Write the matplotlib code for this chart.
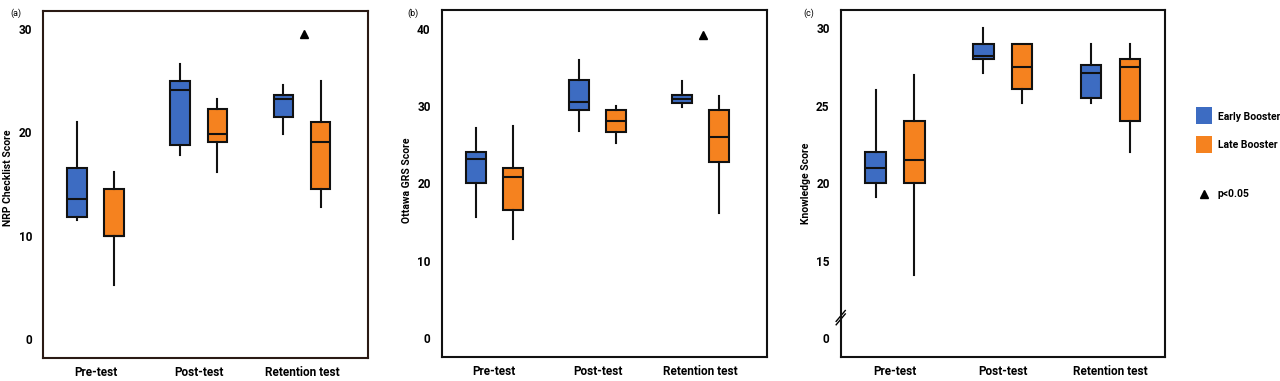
import matplotlib
matplotlib.use("Agg")
import matplotlib.pyplot as plt
from matplotlib.patches import Rectangle
from matplotlib.lines import Line2D
from matplotlib.transforms import blended_transform_factory

plt.rcParams['font.family'] = ['Roboto', 'DejaVu Sans']

timepoints = ["Pre-test", "Post-test", "Retention test"]
groups = ["Early Booster", "Late Booster"]

# Panel (a) NRP Checklist Score
a_early_whislo = [11.55, 17.8, 19.8]
a_early_q1 = [11.8, 18.8, 21.5]
a_early_med = [13.55, 24.1, 23.2]
a_early_q3 = [16.55, 24.9, 23.6]
a_early_whishi = [21.0, 26.6, 24.6]
a_late_whislo = [5.2, 16.2, 12.8]
a_late_q1 = [10.0, 19.1, 14.5]
a_late_med = [10.0, 19.8, 19.1]
a_late_q3 = [14.5, 22.2, 21.0]
a_late_whishi = [16.2, 23.2, 24.9]
a_sig = [(3, 29.5)]

# Panel (b) Ottawa GRS Score
b_early_whislo = [15.7, 26.7, 29.8]
b_early_q1 = [20.0, 29.5, 30.4]
b_early_med = [23.2, 30.5, 30.9]
b_early_q3 = [24.1, 33.3, 31.4]
b_early_whishi = [27.2, 36.0, 33.2]
b_late_whislo = [12.8, 25.2, 16.2]
b_late_q1 = [16.6, 26.6, 22.7]
b_late_med = [20.8, 28.1, 26.0]
b_late_q3 = [22.0, 29.5, 29.5]
b_late_whishi = [27.4, 30.0, 31.3]
b_sig = [(3, 39.2)]

# Panel (c) Knowledge Score
c_early_whislo = [19.1, 27.1, 25.2]
c_early_q1 = [20.0, 28.0, 25.5]
c_early_med = [21.0, 28.2, 27.1]
c_early_q3 = [22.0, 29.0, 27.6]
c_early_whishi = [26.0, 30.0, 29.0]
c_late_whislo = [14.1, 25.2, 22.0]
c_late_q1 = [20.0, 26.1, 24.0]
c_late_med = [21.5, 27.5, 27.5]
c_late_q3 = [24.0, 29.0, 28.0]
c_late_whishi = [27.0, 29.0, 29.0]
c_sig = []

a_ticks = [0, 10, 20, 30]
a_ticklabels = ["0", "10", "20", "30"]
b_ticks = [0, 10, 20, 30, 40]
b_ticklabels = ["0", "10", "20", "30", "40"]
c_ticks = [10, 15, 20, 25, 30]
c_ticklabels = ["0", "15", "20", "25", "30"]

BLUE = "#3d6cc2"
ORANGE = "#f5821f"

def stats(whislo, q1, med, q3, whishi):
    return [dict(whislo=w0, q1=a, med=m, q3=b, whishi=w1, fliers=[])
            for w0, a, m, b, w1 in zip(whislo, q1, med, q3, whishi)]

fig = plt.figure(figsize=(12.8, 3.81), dpi=100)

panels = [
    dict(rect=[0.0336, 0.0604, 0.2539, 0.9107], label="(a)", ylabel="NRP Checklist Score",
         early=stats(a_early_whislo, a_early_q1, a_early_med, a_early_q3, a_early_whishi),
         late=stats(a_late_whislo, a_late_q1, a_late_med, a_late_q3, a_late_whishi),
         ylim=(-1.8, 31.7), xlim=(0.49, 3.64), ticks=a_ticks, tl=a_ticklabels, sig=a_sig,
         spine="#2a1a14", lx=0.0125, ly=0.52),
    dict(rect=[0.3451, 0.0630, 0.2539, 0.9108], label="(b)", ylabel="Ottawa GRS Score",
         early=stats(b_early_whislo, b_early_q1, b_early_med, b_early_q3, b_early_whishi),
         late=stats(b_late_whislo, b_late_q1, b_late_med, b_late_q3, b_late_whishi),
         ylim=(-2.45, 42.4), xlim=(0.49, 3.64), ticks=b_ticks, tl=b_ticklabels, sig=b_sig,
         spine="#111111", lx=0.3223, ly=0.51),
    dict(rect=[0.6568, 0.0630, 0.2536, 0.9108], label="(c)", ylabel="Knowledge Score",
         early=stats(c_early_whislo, c_early_q1, c_early_med, c_early_q3, c_early_whishi),
         late=stats(c_late_whislo, c_late_q1, c_late_med, c_late_q3, c_late_whishi),
         ylim=(8.78, 31.18), xlim=(0.495, 3.51), ticks=c_ticks, tl=c_ticklabels, sig=c_sig,
         spine="#111111", lx=0.6315, ly=0.50),
]

off = 0.18
bw = 0.19
x = [1, 2, 3]
for p in panels:
    ax = fig.add_axes(p["rect"])
    for st, col, dx in [(p["early"], BLUE, -off), (p["late"], ORANGE, off)]:
        ax.bxp(st, positions=[xi + dx for xi in x], widths=bw, patch_artist=True,
               showcaps=False, showfliers=False,
               boxprops=dict(facecolor=col, edgecolor="#111111", linewidth=1.5),
               medianprops=dict(color="#111111", linewidth=1.5),
               whiskerprops=dict(color="#111111", linewidth=1.5))
    for sx, sy in p["sig"]:
        ax.plot([sx + 0.02], [sy], marker="^", color="black", markersize=6, linestyle="none")
    ax.set_xlim(*p["xlim"])
    ax.set_ylim(*p["ylim"])
    ax.set_xticks(x)
    ax.set_xticklabels(timepoints, fontsize=8.5, fontweight="bold")
    ax.set_yticks(p["ticks"])
    ax.set_yticklabels(p["tl"], fontsize=8.5, fontweight="bold")
    ax.tick_params(axis="both", length=0)
    ax.tick_params(axis="y", pad=8)
    ax.tick_params(axis="x", pad=6)
    ax.set_ylabel(p["ylabel"], fontsize=7.5, fontweight="bold")
    ax.yaxis.label.set_va("center")
    ax.yaxis.set_label_coords(-0.108, p["ly"])
    for s in ax.spines.values():
        s.set_color(p["spine"])
        s.set_linewidth(1.5)
    fig.text(p["lx"], 0.965, p["label"], fontsize=6.5, ha="center", va="center")
    if p["label"] == "(c)":
        tr = blended_transform_factory(ax.transAxes, ax.transData)
        for dy in (0.0, 0.22):
            ax.add_line(Line2D([-0.014, 0.014], [10.86 + dy, 11.56 + dy], transform=tr,
                               color="black", linewidth=1.0, clip_on=False))

# Legend
fig.patches.append(Rectangle((1196 / 1280, 1 - 124 / 381), 16 / 1280, 17 / 381,
                             transform=fig.transFigure, facecolor=BLUE, edgecolor="none"))
fig.patches.append(Rectangle((1196 / 1280, 1 - 153 / 381), 16 / 1280, 17 / 381,
                             transform=fig.transFigure, facecolor=ORANGE, edgecolor="none"))
fig.text(1218 / 1280, 1 - 117 / 381, groups[0], fontsize=7.5, fontweight="bold", va="center")
fig.text(1218 / 1280, 1 - 145 / 381, groups[1], fontsize=7.5, fontweight="bold", va="center")
fig.lines.append(Line2D([1204 / 1280], [1 - 194 / 381], transform=fig.transFigure,
                        marker="^", color="black", markersize=5.5, linestyle="none"))
fig.text(1218 / 1280, 1 - 194 / 381, "p<0.05", fontsize=7.5, fontweight="bold", va="center")

fig.savefig("out.png", dpi=100, facecolor="white")
